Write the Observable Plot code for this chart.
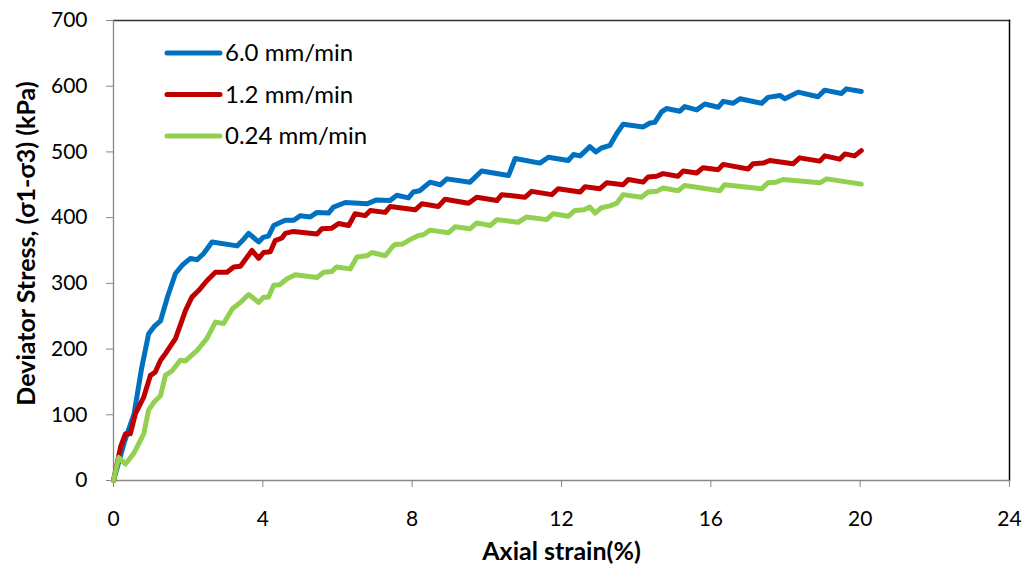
<!DOCTYPE html>
<html><head><meta charset="utf-8">
<script src="https://cdn.jsdelivr.net/npm/d3@7"></script>
<script src="https://cdn.jsdelivr.net/npm/@observablehq/plot@0.6"></script>
<style>body{margin:0;background:#fff;} svg{display:block;}</style>
</head><body><div id="chart"></div>
<script>
const seriesNames = ["6.0 mm/min", "1.2 mm/min", "0.24 mm/min"];
const seriesColors = ["#0070C0", "#C00000", "#92D050"];
const xTicks = [0, 4, 8, 12, 16, 20, 24];
const yTicks = [0, 100, 200, 300, 400, 500, 600, 700];

const blueStrain = [0,0.3,0.55,0.75,0.94,1.1,1.26,1.45,1.66,1.85,2.06,2.24,2.41,2.64,3.31,3.5,3.62,3.89,4.01,4.15,4.29,4.6,4.83,5.0,5.27,5.45,5.76,5.89,6.21,6.79,7.05,7.41,7.59,7.9,8.03,8.2,8.48,8.75,8.93,9.55,9.86,10.58,10.76,11.42,11.65,12.18,12.32,12.5,12.76,12.92,13.07,13.3,13.48,13.65,14.19,14.37,14.5,14.68,14.81,15.17,15.3,15.62,15.84,16.2,16.33,16.6,16.78,17.36,17.53,17.85,17.98,18.34,18.87,19.05,19.5,19.63,20.03];
const blueStress = [0,60,101,170,223,235,243,280,315,328,338,336,345,363,357,368,376,363,370,372,388,396,396,403,401,408,407,416,423,421,427,426,434,430,439,441,454,450,459,454,471,464,490,483,492,487,496,494,508,500,506,510,528,542,538,544,545,561,566,562,569,564,573,568,577,574,581,574,583,586,581,591,584,594,589,596,592];

const redStrain = [0,0.19,0.32,0.45,0.59,0.81,0.99,1.12,1.26,1.39,1.66,1.93,2.1,2.28,2.5,2.73,3.04,3.22,3.4,3.58,3.71,3.89,4.02,4.2,4.33,4.51,4.6,4.82,5.45,5.58,5.85,6.03,6.3,6.47,6.74,6.88,7.28,7.41,8.08,8.26,8.7,8.88,9.51,9.73,10.27,10.4,11.02,11.2,11.74,11.91,12.5,12.63,13.03,13.21,13.65,13.79,14.19,14.32,14.55,14.72,15.12,15.26,15.62,15.79,16.2,16.33,17.0,17.13,17.4,17.58,18.2,18.38,18.92,19.05,19.45,19.59,19.85,20.03];
const redStress = [0,51,71,71,102,127,160,165,183,193,216,259,279,289,304,317,317,325,326,340,350,338,347,348,365,369,376,379,375,383,384,391,388,406,403,411,408,417,412,421,417,428,422,431,426,435,431,440,435,444,439,447,444,453,450,458,454,462,463,467,463,471,468,476,473,481,474,482,483,487,482,491,486,494,489,497,494,502];

const greenStrain = [0,0.14,0.32,0.54,0.81,0.94,1.08,1.26,1.39,1.57,1.79,1.93,2.24,2.5,2.73,2.95,3.18,3.4,3.62,3.89,4.02,4.15,4.29,4.45,4.65,4.87,5.45,5.63,5.85,5.98,6.34,6.52,6.79,6.92,7.28,7.46,7.54,7.75,7.99,8.17,8.3,8.48,8.97,9.15,9.55,9.73,10.09,10.27,10.84,11.07,11.6,11.78,12.18,12.36,12.6,12.76,12.9,13.07,13.3,13.48,13.65,14.14,14.32,14.55,14.72,15.12,15.3,16.24,16.37,17.36,17.53,17.75,17.93,18.92,19.1,20.03];
const greenStress = [0,35,25,41,71,107,119,129,160,167,183,182,198,216,241,239,261,271,283,271,279,279,297,298,307,313,309,317,318,325,322,340,342,347,342,355,359,360,368,373,374,381,377,386,383,392,388,397,393,401,397,406,402,411,412,416,407,415,418,422,435,431,439,440,445,441,449,441,450,444,453,454,458,453,459,451];

const strains = [blueStrain, redStrain, greenStrain];
const stresses = [blueStress, redStress, greenStress];
const rows = [];
seriesNames.forEach((name, i) => {
  strains[i].forEach((x, j) => rows.push({series: name, strain: x, stress: stresses[i][j]}));
});

const W = 1026, H = 570;
const chart = Plot.plot({
  width: W, height: H,
  marginLeft: 113, marginRight: 17, marginTop: 20, marginBottom: 90,
  style: {fontFamily: "Lato, 'Open Sans', sans-serif", fontSize: "21px", color: "#000", background: "#fff", overflow: "visible"},
  x: {domain: [0, 24], ticks: xTicks, label: null},
  y: {domain: [0, 700], ticks: yTicks, label: null},
  color: {domain: seriesNames, range: seriesColors},
  marks: [
    Plot.frame({anchor: "top", stroke: "#333", strokeWidth: 1.5}),
    Plot.frame({anchor: "right", stroke: "#000", strokeWidth: 1.5}),
    Plot.axisX({ticks: xTicks, tickSize: 7, tickPadding: 24, stroke: "#888", label: null, fontSize: 21}),
    Plot.axisY({ticks: yTicks, tickSize: 7, tickPadding: 19, stroke: "#888", label: null, fontSize: 21}),
    Plot.ruleY([0], {stroke: "#888", strokeWidth: 1.3}),
    Plot.ruleX([0], {stroke: "#888", strokeWidth: 1.3}),
    Plot.line(rows, {x: "strain", y: "stress", z: "series", stroke: "series", strokeWidth: 5, strokeLinejoin: "round", strokeLinecap: "round"}),
    Plot.text(["Axial strain(%)"], {frameAnchor: "bottom", lineAnchor: "middle", textAnchor: "middle", dy: 71, text: d => d, fontWeight: "bold", fontSize: 25}),
    Plot.text(["Deviator Stress, (σ1-σ3) (kPa)"], {frameAnchor: "left", lineAnchor: "middle", textAnchor: "middle", dx: -87, dy: -7, rotate: -90, text: d => d, fontWeight: "bold", fontSize: 25})
  ]
});

// legend inside plot area
const svg = d3.select(chart);
const lg = svg.append("g").attr("font-family", "Lato, 'Open Sans', sans-serif").attr("font-size", 24).attr("text-anchor", "start");
seriesNames.forEach((name, i) => {
  const yy = 53 + i * 41.5;
  lg.append("line").attr("x1", 167).attr("x2", 220).attr("y1", yy).attr("y2", yy)
    .attr("stroke", seriesColors[i]).attr("stroke-width", 5).attr("stroke-linecap", "round");
  lg.append("text").attr("x", 225).attr("y", yy).attr("dy", "0.35em").attr("fill", "#000").text(name);
});
document.getElementById("chart").appendChild(chart);
</script>
</body></html>
